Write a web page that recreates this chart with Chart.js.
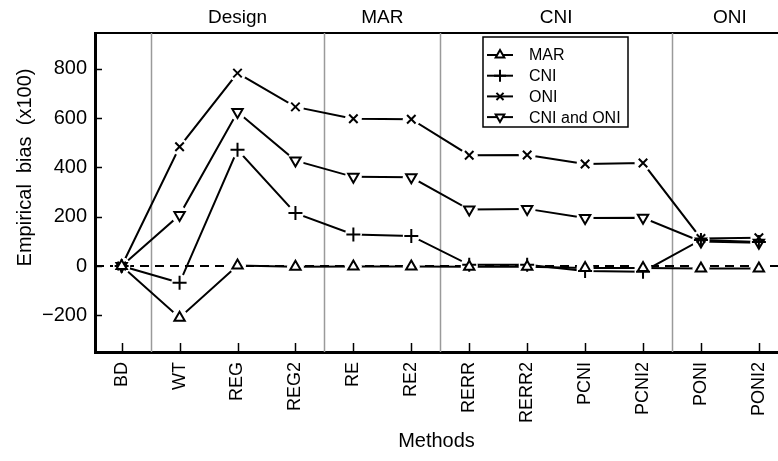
<!DOCTYPE html>
<html>
<head>
<meta charset="utf-8">
<title>Empirical bias by method</title>
<script src="https://cdn.jsdelivr.net/npm/chart.js@4/dist/chart.umd.min.js"></script>
<style>
  body { margin: 0; background: #ffffff; }
  canvas { display: block; }
</style>
</head>
<body>
<canvas id="bias-chart" width="778" height="461"></canvas>
<script>
// Methods along the x axis
const methods = ['BD', 'WT', 'REG', 'REG2', 'RE', 'RE2', 'RERR', 'RERR2', 'PCNI', 'PCNI2', 'PONI', 'PONI2'];

// Empirical bias (x100) per missingness scenario
const marValues = [0, -210, 2, -3, -2, -2, -3, -3, -8, -8, -10, -10];
const cniValues = [0, -68, 472, 215, 128, 122, 5, 5, -20, -23, 106, 98];
const oniValues = [0, 484, 783, 646, 598, 596, 450, 451, 414, 418, 112, 115];
const cniOniValues = [0, 207, 625, 428, 362, 360, 229, 232, 195, 196, 100, 94];

// Method groups shown above the plot, and where the gray separators sit
const groupNames = ['Design', 'MAR', 'CNI', 'ONI'];
const groupCenters = [2, 4.5, 7.5, 10.5];
const groupBounds = [0.5, 3.5, 5.5, 9.5];

// Y axis ticks
const yTickValues = [-200, 0, 200, 400, 600, 800];

const fontFamily = '"Liberation Sans", Arial, Helvetica, sans-serif';

document.addEventListener('DOMContentLoaded', function() {

    const series = [
        { label: 'MAR', values: marValues, style: 'triangle', rotation: 0, radius: 6 },
        { label: 'CNI', values: cniValues, style: 'cross', rotation: 0, radius: 7 },
        { label: 'ONI', values: oniValues, style: 'crossRot', rotation: 0, radius: 6 },
        { label: 'CNI and ONI', values: cniOniValues, style: 'triangle', rotation: 180, radius: 6 }
    ];

    function toPoints(values) {
        return values.map((v, i) => ({ x: i, y: v }));
    }

    // Lines go underneath, then white halos so lines stop short of the markers, then the markers
    const datasets = [];
    series.forEach(s => {
        datasets.push({
            label: s.label + ' line',
            data: toPoints(s.values),
            borderColor: '#000',
            borderWidth: 2,
            pointRadius: 0,
            fill: false,
            tension: 0,
            order: 3
        });
        datasets.push({
            label: s.label + ' halo',
            data: toPoints(s.values),
            showLine: false,
            pointStyle: 'circle',
            pointRadius: 8.5,
            pointBorderWidth: 0,
            pointBackgroundColor: '#fff',
            order: 2
        });
        datasets.push({
            label: s.label,
            isMarker: true,
            data: toPoints(s.values),
            showLine: false,
            pointStyle: s.style,
            rotation: s.rotation,
            pointRadius: s.radius,
            pointBorderWidth: 2,
            pointBorderColor: '#000',
            pointBackgroundColor: '#fff',
            order: 1
        });
    });

    // Separators, zero line, inward ticks and the boxed legend
    const decorations = {
        id: 'decorations',
        beforeDatasetsDraw(chart) {
            const ctx = chart.ctx;
            const area = chart.chartArea;
            const xs = chart.scales.x;
            const ys = chart.scales.y;
            ctx.save();
            ctx.strokeStyle = '#9a9a9a';
            ctx.lineWidth = 1.5;
            groupBounds.forEach(b => {
                const px = Math.round(xs.getPixelForValue(b)) + 0.5;
                ctx.beginPath();
                ctx.moveTo(px, area.top);
                ctx.lineTo(px, area.bottom);
                ctx.stroke();
            });
            // dashed reference line at zero
            const y0 = ys.getPixelForValue(0);
            ctx.strokeStyle = '#000';
            ctx.lineWidth = 2;
            ctx.setLineDash([9, 6]);
            ctx.beginPath();
            ctx.moveTo(area.left, y0);
            ctx.lineTo(area.right, y0);
            ctx.stroke();
            ctx.restore();
        },
        afterDraw(chart) {
            const ctx = chart.ctx;
            const area = chart.chartArea;
            const xs = chart.scales.x;
            const ys = chart.scales.y;
            ctx.save();
            ctx.strokeStyle = '#000';
            ctx.lineWidth = 1.5;
            // ticks pointing into the plot
            methods.forEach((m, i) => {
                const px = Math.round(xs.getPixelForValue(i)) + 0.5;
                ctx.beginPath();
                ctx.moveTo(px, area.bottom);
                ctx.lineTo(px, area.bottom - 9);
                ctx.stroke();
            });
            yTickValues.forEach(v => {
                const py = Math.round(ys.getPixelForValue(v)) + 0.5;
                ctx.beginPath();
                ctx.moveTo(area.left, py);
                ctx.lineTo(area.left + 7, py);
                ctx.stroke();
            });

            // legend box
            const boxX = area.left + 388;
            const boxY = area.top + 4;
            const boxW = 145;
            const boxH = 90;
            ctx.fillStyle = '#fff';
            ctx.fillRect(boxX, boxY, boxW, boxH);
            ctx.lineWidth = 1.5;
            ctx.strokeRect(boxX, boxY, boxW, boxH);
            ctx.font = '16px ' + fontFamily;
            ctx.textBaseline = 'middle';
            ctx.textAlign = 'left';
            chart.data.datasets.filter(ds => ds.isMarker).forEach((ds, k) => {
                const ly = boxY + 18 + k * 20.7;
                ctx.strokeStyle = '#000';
                ctx.lineWidth = 2;
                ctx.beginPath();
                ctx.moveTo(boxX + 4, ly);
                ctx.lineTo(boxX + 30, ly);
                ctx.stroke();
                ctx.fillStyle = '#fff';
                ctx.strokeStyle = '#000';
                Chart.helpers.drawPoint(ctx, {
                    pointStyle: ds.pointStyle,
                    rotation: ds.rotation,
                    radius: ds.pointRadius - 1,
                    borderWidth: 2.5
                }, boxX + 17, ly);
                ctx.fillStyle = '#000';
                ctx.fillText(ds.label, boxX + 46, ly + 1);
            });
            ctx.restore();
        }
    };

    const ctx = document.getElementById('bias-chart').getContext('2d');
    new Chart(ctx, {
        type: 'line',
        data: { datasets: datasets },
        options: {
            responsive: false,
            animation: false,
            layout: { padding: 0, autoPadding: false },
            plugins: {
                legend: { display: false },
                tooltip: { enabled: false }
            },
            scales: {
                x: {
                    type: 'linear',
                    position: 'bottom',
                    min: -0.46,
                    max: 11.33,
                    afterBuildTicks: s => { s.ticks = methods.map((m, i) => ({ value: i })); },
                    afterFit: s => { s.height = 109; s.paddingLeft = 0; s.paddingRight = 0; },
                    grid: { display: false, drawTicks: false },
                    border: { display: true, color: '#000', width: 3 },
                    ticks: {
                        autoSkip: false,
                        minRotation: 90,
                        maxRotation: 90,
                        padding: 10,
                        color: '#000',
                        font: { family: fontFamily, size: 18 },
                        callback: v => methods[v]
                    },
                    title: {
                        display: true,
                        text: 'Methods',
                        color: '#000',
                        font: { family: fontFamily, size: 20 },
                        padding: { top: 0, bottom: 8 }
                    }
                },
                x2: {
                    type: 'linear',
                    position: 'top',
                    min: -0.46,
                    max: 11.33,
                    afterBuildTicks: s => { s.ticks = groupCenters.map(c => ({ value: c })); },
                    afterFit: s => { s.height = 33; s.paddingLeft = 0; s.paddingRight = 0; },
                    grid: { display: false, drawTicks: false },
                    border: { display: true, color: '#000', width: 2 },
                    ticks: {
                        autoSkip: false,
                        maxRotation: 0,
                        padding: 4,
                        color: '#000',
                        font: { family: fontFamily, size: 19 },
                        callback: (v, i) => groupNames[i]
                    }
                },
                y: {
                    type: 'linear',
                    min: -349,
                    max: 946,
                    afterBuildTicks: s => { s.ticks = yTickValues.map(v => ({ value: v })); },
                    afterFit: s => { s.width = 95; },
                    grid: { display: false, drawTicks: false },
                    border: { display: true, color: '#000', width: 3 },
                    ticks: {
                        padding: 8,
                        color: '#000',
                        font: { family: fontFamily, size: 20 },
                        callback: v => (v < 0 ? '\u2212' + Math.abs(v) : String(v))
                    },
                    title: {
                        display: true,
                        // leading spaces lift the label towards the top, as in the original
                        text: '         Empirical  bias  (x100)',
                        color: '#000',
                        font: { family: fontFamily, size: 20 },
                        padding: { top: 13, bottom: 0 }
                    }
                }
            }
        },
        plugins: [decorations]
    });
});
</script>
</body>
</html>
